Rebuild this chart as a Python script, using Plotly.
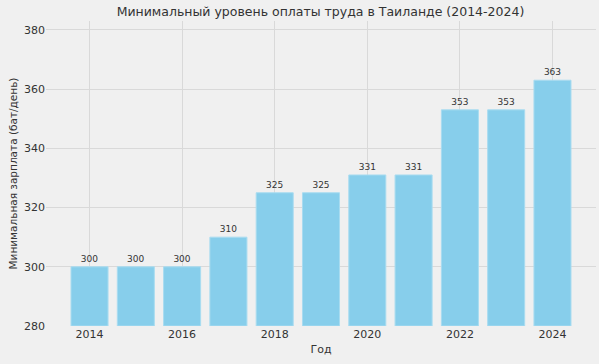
import plotly.graph_objects as go

years = [2014, 2015, 2016, 2017, 2018, 2019, 2020, 2021, 2022, 2023, 2024]
wages = [300, 300, 300, 310, 325, 325, 331, 331, 353, 353, 363]
x_ticks = [2014, 2016, 2018, 2020, 2022, 2024]
y_ticks = [280, 300, 320, 340, 360, 380]

title = "Минимальный уровень оплаты труда в Таиланде (2014-2024)"
x_title = "Год"
y_title = "Минимальная зарплата (бат/день)"

font = "DejaVu Sans"
base = 280

fig = go.Figure(go.Bar(
    x=years, y=[w - base for w in wages], base=base,
    width=0.8,
    marker=dict(color="#87CEEB", line=dict(color="#a9dcf0", width=1)),
    text=[str(w) for w in wages], textposition="outside",
    textfont=dict(family=font, size=9, color="#333333"),
    cliponaxis=False,
    hoverinfo="skip",
))

fig.update_layout(
    width=599, height=364,
    margin=dict(l=46, r=3, t=21, b=38, autoexpand=False),
    paper_bgcolor="#f0f0f0", plot_bgcolor="#f0f0f0",
    font=dict(family=font, color="#333333"),
    title=dict(text=title, x=0.535, xanchor="center", y=0.967, yanchor="middle",
               font=dict(family=font, size=12.5, color="#333333")),
    showlegend=False,
)
fig.update_xaxes(
    range=[2013.06, 2024.94], tickvals=x_ticks, ticktext=[str(t) for t in x_ticks],
    showgrid=True, gridcolor="#d9d9d9", gridwidth=1, zeroline=False,
    showline=False, ticks="", tickfont=dict(size=11, color="#333333"),
    automargin=False,
    title=dict(text=x_title, font=dict(size=11, color="#333333"), standoff=5),
)
fig.update_yaxes(
    range=[280, 383], tickvals=y_ticks, ticktext=[str(t) for t in y_ticks],
    showgrid=True, gridcolor="#d9d9d9", gridwidth=1, zeroline=False,
    showline=False, ticks="", tickfont=dict(size=11, color="#333333"),
    automargin=False,
    title=dict(text=y_title, font=dict(size=10.5, color="#333333"), standoff=4),
)

fig.write_html(
    "out.html",
    config={"displayModeBar": False, "staticPlot": True},
    post_script="document.body.style.margin='0';document.body.style.background='#f0f0f0';",
)
